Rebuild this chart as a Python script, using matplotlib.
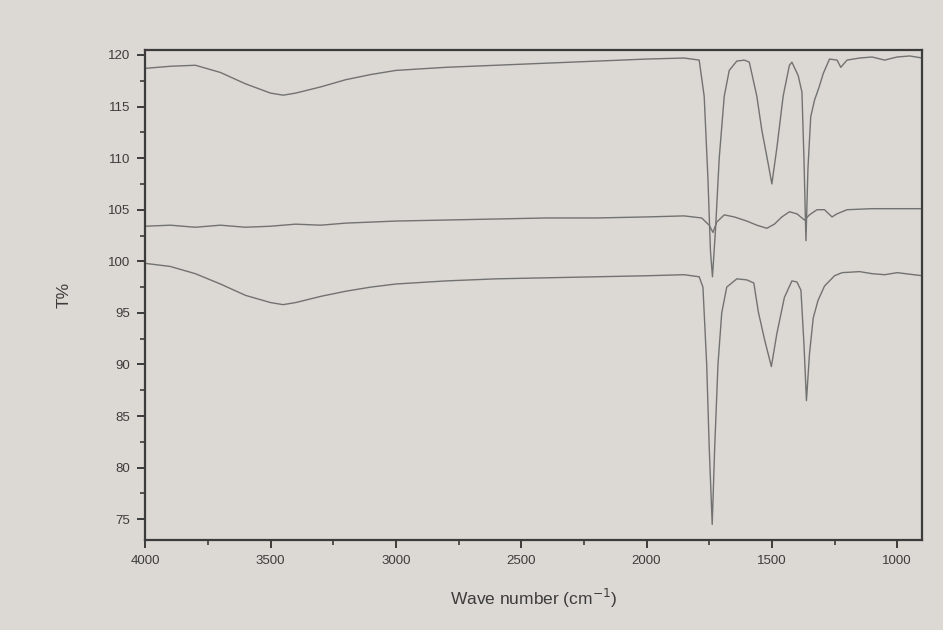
import numpy as np
import matplotlib.pyplot as plt
from matplotlib.ticker import MultipleLocator

plt.rcParams['font.family'] = ['Liberation Sans', 'DejaVu Sans']

# =====================================================
# SPECTRA
# =====================================================

wn_top = [4000, 3900, 3800, 3700, 3600, 3500, 3450, 3400, 3300, 3200,
          3100, 3000, 2800, 2600, 2400, 2200, 2000, 1850, 1790, 1770,
          1755, 1745, 1737, 1725, 1710, 1690, 1670, 1640, 1610, 1590,
          1560, 1540, 1515, 1500, 1480, 1455, 1430, 1420, 1395, 1380,
          1372, 1364, 1356, 1345, 1330, 1310, 1295, 1270, 1240, 1225,
          1200, 1150, 1100, 1050, 1000, 950, 900]
t_top = [118.7, 118.9, 119.0, 118.3, 117.2, 116.3, 116.1, 116.3, 116.9, 117.6,
         118.1, 118.5, 118.8, 119.0, 119.2, 119.4, 119.6, 119.7, 119.5, 116.0,
         108.0, 101.0, 98.5, 103.0, 110.0, 116.0, 118.5, 119.4, 119.5, 119.3,
         116.0, 112.7, 109.5, 107.5, 111.0, 116.0, 119.0, 119.3, 118.0, 116.4,
         110.0, 102.0, 109.0, 114.0, 115.6, 117.0, 118.2, 119.6, 119.5, 118.8,
         119.5, 119.7, 119.8, 119.5, 119.8, 119.9, 119.7]

wn_mid = [4000, 3900, 3800, 3700, 3600, 3500, 3400, 3300, 3200, 3000,
          2800, 2600, 2400, 2200, 2000, 1850, 1780, 1750, 1735, 1720,
          1690, 1650, 1600, 1560, 1520, 1490, 1460, 1430, 1400, 1370,
          1350, 1320, 1290, 1260, 1240, 1200, 1100, 1000, 900]
t_mid = [103.4, 103.5, 103.3, 103.5, 103.3, 103.4, 103.6, 103.5, 103.7, 103.9,
         104.0, 104.1, 104.2, 104.2, 104.3, 104.4, 104.2, 103.5, 102.8, 103.8,
         104.5, 104.3, 103.9, 103.5, 103.2, 103.6, 104.3, 104.8, 104.6, 104.0,
         104.5, 105.0, 105.0, 104.3, 104.6, 105.0, 105.1, 105.1, 105.1]

wn_bot = [4000, 3900, 3800, 3700, 3600, 3500, 3450, 3400, 3300, 3200,
          3100, 3000, 2800, 2600, 2400, 2200, 2000, 1850, 1790, 1775,
          1760, 1750, 1738, 1728, 1715, 1700, 1680, 1640, 1600, 1572,
          1554, 1530, 1502, 1480, 1450, 1420, 1400, 1384, 1372, 1362,
          1350, 1335, 1316, 1290, 1250, 1220, 1150, 1100, 1050, 1000, 900]
t_bot = [99.8, 99.5, 98.8, 97.8, 96.7, 96.0, 95.8, 96.0, 96.6, 97.1,
         97.5, 97.8, 98.1, 98.3, 98.4, 98.5, 98.6, 98.7, 98.5, 97.5,
         90.0, 82.0, 74.5, 82.0, 90.0, 95.0, 97.5, 98.3, 98.2, 97.9,
         95.1, 92.5, 89.8, 93.0, 96.5, 98.1, 98.0, 97.2, 92.0, 86.5,
         91.0, 94.5, 96.2, 97.6, 98.6, 98.9, 99.0, 98.8, 98.7, 98.9, 98.6]

# =====================================================
# PLOT
# =====================================================

paper = "#dcd9d4"
ink = "#3c3c3c"

fig = plt.figure(figsize=(9.43, 6.3), dpi=100, facecolor=paper)
ax = fig.add_axes([0.154, 0.143, 0.824, 0.778], facecolor=paper)

for wn, t in [(wn_top, t_top), (wn_mid, t_mid), (wn_bot, t_bot)]:
    ax.plot(wn, t, color="#727272", lw=1.0)

ax.set_xlim(4000, 900)
ax.set_ylim(73, 120.5)

ax.xaxis.set_minor_locator(MultipleLocator(250))
ax.yaxis.set_minor_locator(MultipleLocator(2.5))
ax.set_xticks(np.arange(4000, 999, -500))
ax.set_yticks(np.arange(75, 121, 5))

ax.tick_params(which="major", direction="out", length=6, width=1.4,
               color=ink, labelcolor=ink, labelsize=9.5, pad=5)
ax.tick_params(which="minor", direction="out", length=3.5, width=1.2, color=ink)
ax.tick_params(right=False, top=False)

for s in ax.spines.values():
    s.set_color(ink)
    s.set_linewidth(1.6)

ax.set_xlabel("Wave number (cm$^{-1}$)", fontsize=12.5, color=ink, labelpad=14)
ax.set_ylabel("T%", fontsize=12.5, color=ink, labelpad=26)

plt.savefig("out.png", dpi=100, facecolor=paper)
